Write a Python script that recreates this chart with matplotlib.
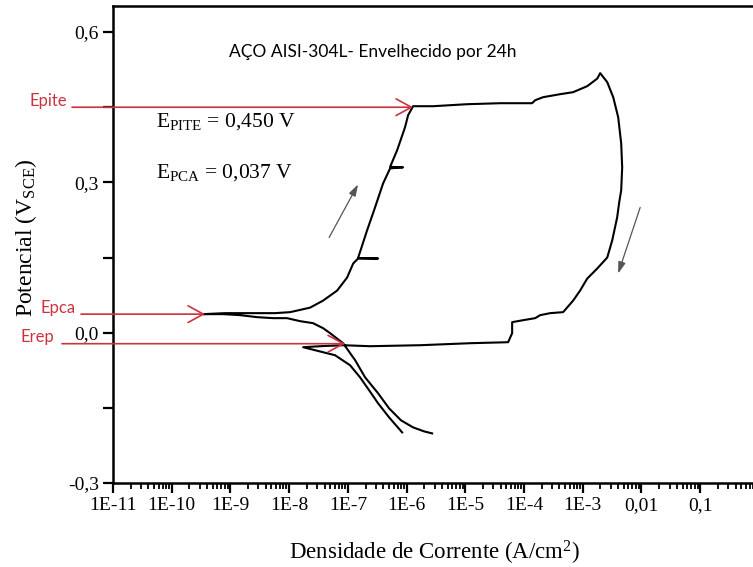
import matplotlib
matplotlib.use("Agg")
import matplotlib.pyplot as plt
from matplotlib.ticker import FixedLocator, LogLocator, NullFormatter

plt.rcParams["font.family"] = ["Liberation Serif", "DejaVu Serif"]
plt.rcParams["mathtext.fontset"] = "custom"
plt.rcParams["mathtext.rm"] = "Liberation Serif"
plt.rcParams["mathtext.it"] = "Liberation Serif:italic"
plt.rcParams["mathtext.bf"] = "Liberation Serif:bold"

# ---- cyclic polarization data (current density in A/cm^2, potential in V vs SCE)
# forward scan: cathodic branch -> corrosion potential -> passive range -> pitting
i_forward = [2.72e-6, 1.99e-6, 1.29e-6, 8.05e-7, 5.03e-7, 3.27e-7, 1.96e-7, 1.33e-7,
             8.28e-8, 4.98e-8, 3.78e-8, 2.55e-8, 1.53e-8, 9.2e-9, 5.3e-9, 2.84e-9,
             1.46e-9, 7.5e-10, 3.4e-10,
             8.1e-10, 2.16e-9, 5.75e-9, 1.04e-8, 2.27e-8, 3.78e-8, 6.55e-8, 9.7e-8,
             1.23e-7, 1.49e-7, 3.27e-7, 1.49e-7, 2.12e-7, 2.90e-7, 3.98e-7, 5.24e-7,
             8.7e-7, 5.24e-7, 6.89e-7, 9.4e-7, 1.06e-6, 1.29e-6,
             2.82e-6, 1.07e-5, 3.92e-5, 1.37e-4, 1.55e-4, 2.11e-4, 4.12e-4, 6.85e-4,
             1.19e-3, 1.76e-3, 1.98e-3]
E_forward = [-0.201, -0.197, -0.189, -0.175, -0.151, -0.121, -0.089, -0.055,
             -0.021, -0.001, 0.009, 0.019, 0.023, 0.029, 0.029, 0.031,
             0.035, 0.037, 0.037,
             0.039, 0.039, 0.039, 0.041, 0.050, 0.064, 0.084, 0.110,
             0.138, 0.148, 0.148, 0.149, 0.204, 0.250, 0.298, 0.328,
             0.330, 0.331, 0.364, 0.410, 0.434, 0.452,
             0.452, 0.456, 0.458, 0.458, 0.464, 0.470, 0.476, 0.480,
             0.492, 0.507, 0.518]

# reverse scan: from the vertex back down through repassivation to the cathodic branch
i_reverse = [2.61e-3, 3.30e-3, 4.01e-3, 4.51e-3, 4.69e-3, 4.51e-3, 4.17e-3, 3.85e-3,
             3.17e-3, 2.61e-3, 1.76e-3, 1.19e-3, 9.0e-4, 6.85e-4, 4.63e-4, 2.79e-4,
             1.88e-4, 1.55e-4, 9.7e-5, 6.27e-5, 6.27e-5, 5.36e-5, 1.21e-5, 1.70e-6,
             2.39e-7, 8.28e-8, 3.36e-8, 1.73e-8,
             3.78e-8, 6.05e-8, 1.09e-7, 1.61e-7, 2.30e-7, 3.27e-7, 5.03e-7, 8.4e-7]
E_reverse = [0.500, 0.470, 0.430, 0.378, 0.330, 0.284, 0.260, 0.230,
             0.184, 0.150, 0.128, 0.108, 0.084, 0.064, 0.041, 0.039,
             0.035, 0.029, 0.025, 0.021, -0.001, -0.019, -0.021, -0.025,
             -0.027, -0.025, -0.027, -0.029,
             -0.039, -0.045, -0.065, -0.089, -0.115, -0.141, -0.169, -0.199]

# characteristic potentials (V) and current density at each arrow tip
E_pite, i_pite = 0.450, 1.29e-6
E_pca, i_pca = 0.037, 3.7e-10
E_rep, i_rep = -0.022, 8.95e-8

x_ticks = [1e-11, 1e-10, 1e-9, 1e-8, 1e-7, 1e-6, 1e-5, 1e-4, 1e-3, 1e-2, 1e-1, 1]
x_tick_labels = ["1E-11", "1E-10", "1E-9", "1E-8", "1E-7", "1E-6", "1E-5", "1E-4",
                 "1E-3", "0,01", "0,1", "1"]
y_ticks = [-0.3, 0.0, 0.3, 0.6]
y_tick_labels = ["-0,3", "0,0", "0,3", "0,6"]
y_minor = [-0.15, 0.15, 0.45]

W, H = 753, 567
fig = plt.figure(figsize=(W / 100, H / 100), dpi=100)
# axes run on past the right-hand edge of the figure
ax = fig.add_axes([113 / W, (H - 483) / H, (817.4 - 113) / W, (483 - 6) / H])
ax.set_xscale("log")
ax.set_xlim(1e-11, 9.9)
ax.set_ylim(-0.3, 0.652)

ax.plot(i_forward + i_reverse, E_forward + E_reverse, color="black", lw=1.5,
        solid_joinstyle="round")

for s in ("left", "top", "bottom"):
    ax.spines[s].set_linewidth(1.8)
ax.spines["right"].set_visible(False)

ax.xaxis.set_major_locator(FixedLocator(x_ticks))
ax.set_xticklabels(x_tick_labels)
ax.xaxis.set_minor_locator(LogLocator(base=10, subs=range(2, 10), numticks=100))
ax.xaxis.set_minor_formatter(NullFormatter())
ax.yaxis.set_major_locator(FixedLocator(y_ticks))
ax.set_yticklabels(y_tick_labels)
ax.yaxis.set_minor_locator(FixedLocator(y_minor))
ax.tick_params(axis="both", which="major", direction="out", length=7, width=1.6,
               labelsize=14, pad=3)
ax.tick_params(axis="x", which="minor", direction="out", length=4, width=1.3)
ax.tick_params(axis="y", which="minor", direction="out", length=7, width=1.6)
ax.tick_params(top=False, right=False, which="both")

fig.text(26 / W, 1 - 238 / H, r"Potencial (V$_{\rm SCE}$)", rotation=90,
         ha="center", va="center", fontsize=17)
fig.text(435 / W, 1 - 560 / H, r"Densidade de Corrente (A/cm$^{2}$)",
         ha="center", va="baseline", fontsize=16.5)

fig.text(373 / W, 1 - 52 / H, "AÇO AISI-304L- Envelhecido por 24h",
         family=["Lato", "DejaVu Sans"], fontsize=12.5, ha="center", va="center")
fig.text(156 / W, 1 - 127 / H, r"E$_{\rm PITE}$ = 0,450 V", fontsize=15.5,
         ha="left", va="baseline")
fig.text(156 / W, 1 - 178 / H, r"E$_{\rm PCA}$ = 0,037 V", fontsize=15.5,
         ha="left", va="baseline")

# red markers for the pitting, corrosion and repassivation potentials
red = "#cc3340"
markers = [("Epite", E_pite, i_pite, 67, 72),
           ("Epca", E_pca, i_pca, 76, 81),
           ("Erep", E_rep, i_rep, 54, 62)]
for name, pot, cur, text_right, line_start in markers:
    ax.annotate("", xy=(cur, pot), xycoords="data",
                xytext=(line_start, pot), textcoords=("figure pixels", "data"),
                arrowprops=dict(arrowstyle="->,head_length=1.1,head_width=0.6",
                                color=red, lw=1.2, shrinkA=0, shrinkB=0,
                                mutation_scale=10),
                annotation_clip=False)
    ax.annotate(name, xy=(text_right, pot), xycoords=("figure pixels", "data"),
                xytext=(0, 1), textcoords="offset points",
                ha="right", va="baseline", color=red, fontsize=12,
                family=["Lato", "DejaVu Sans"], annotation_clip=False)

# scan-direction arrows
scan_arrows = [((4.79e-8, 0.190), (1.49e-7, 0.296)),
               ((9.5e-3, 0.250), (4.0e-3, 0.118))]
for start, end in scan_arrows:
    ax.annotate("", xy=end, xytext=start,
                arrowprops=dict(arrowstyle="-|>,head_length=0.7,head_width=0.22",
                                color="#555555", lw=0.9, shrinkA=0, shrinkB=0,
                                mutation_scale=10))

fig.savefig("out.png", dpi=100)
